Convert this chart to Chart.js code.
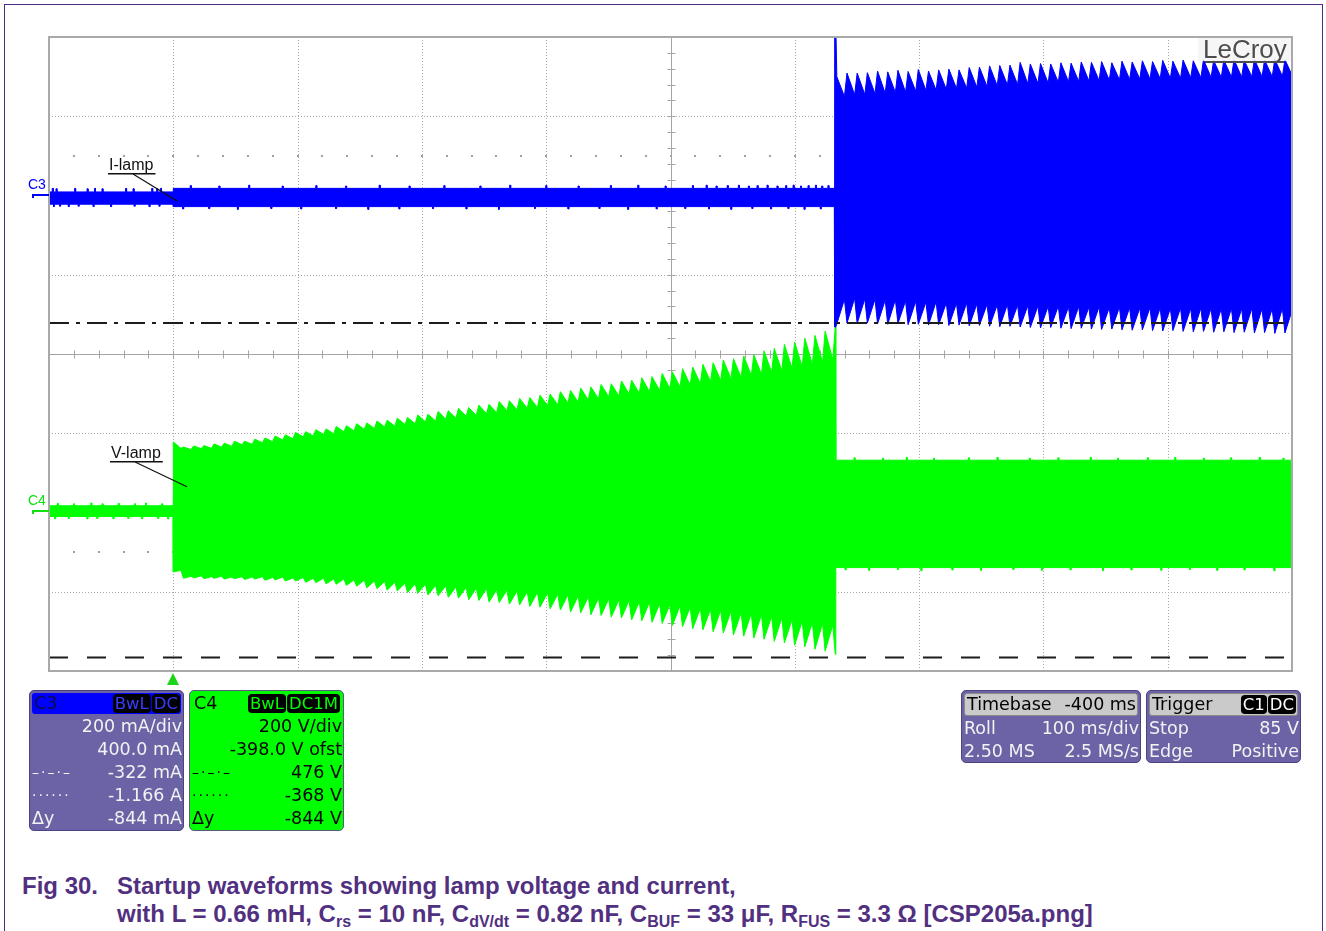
<!DOCTYPE html>
<html>
<head>
<meta charset="utf-8">
<title>Startup waveforms</title>
<script src="https://cdn.jsdelivr.net/npm/chart.js@4.4.1/dist/chart.umd.min.js"></script>
<style>
  html, body { margin: 0; padding: 0; background: #fff; }
  body { width: 1326px; height: 931px; position: relative; overflow: hidden; font-family: "Liberation Sans", Arial, sans-serif; }
  #pageFrame { position: absolute; left: 4px; top: 4px; width: 1319px; height: 960px; border: 1px solid #4e2a84; box-sizing: border-box; }
  #scope { position: absolute; left: 0; top: 0; width: 1326px; height: 700px; }
  .pane { position: absolute; box-sizing: border-box; border: 1px solid #4a4580; border-radius: 5px;
          font-family: "DejaVu Sans", Verdana, sans-serif; font-size: 17.5px; overflow: hidden; }
  .pane .hd { height: 21px; margin: 2px 2px 1px 2px; border-radius: 3px; display: flex; align-items: center;
              justify-content: space-between; padding: 0 1px 0 2px; line-height: 21px; white-space: nowrap; }
  .pane .rw { height: 23px; line-height: 23px; display: flex; justify-content: space-between; padding: 0 1px 0 2px; white-space: nowrap; }
  .badge { display: inline-block; background: #000; border-radius: 4px; padding: 0 2px; height: 19px; line-height: 19px; margin-left: 1px; font-size: 16.5px; }
  .purple { background: #6b63a5; color: #f2f2f2; }
  .sym { font-size: 14px; letter-spacing: 2px; }
  .cap { position: absolute; color: #51307f; font-weight: bold; font-size: 24px; white-space: nowrap; font-family: "Liberation Sans", Arial, sans-serif; }
  .cap sub { font-size: 16px; vertical-align: -5px; line-height: 0; }
</style>
</head>
<body>
<div id="pageFrame"></div>
<div id="scope"><canvas id="scopeChart"></canvas></div>

<!-- channel and timebase readouts -->
<div class="pane purple" style="left:29px;top:690px;width:155px;height:141px;">
  <div class="hd" style="background:#0000ff;color:#0c0c48;"><span>C3</span><span><span class="badge" style="color:#3a3aff">BwL</span><span class="badge" style="color:#3a3aff">DC</span></span></div>
  <div class="rw"><span></span><span>200 mA/div</span></div>
  <div class="rw"><span></span><span>400.0 mA</span></div>
  <div class="rw"><span class="sym">–·–·–</span><span>-322 mA</span></div>
  <div class="rw"><span class="sym">······</span><span>-1.166 A</span></div>
  <div class="rw"><span>Δy</span><span>-844 mA</span></div>
</div>
<div class="pane" style="left:189px;top:690px;width:155px;height:141px;background:#00ff00;color:#000;border-color:#5a5a7a;">
  <div class="hd" style="color:#000;"><span>C4</span><span><span class="badge" style="color:#00ff00">BwL</span><span class="badge" style="color:#00ff00">DC1M</span></span></div>
  <div class="rw"><span></span><span>200 V/div</span></div>
  <div class="rw"><span></span><span>-398.0 V ofst</span></div>
  <div class="rw"><span class="sym">–·–·–</span><span>476 V</span></div>
  <div class="rw"><span class="sym">······</span><span>-368 V</span></div>
  <div class="rw"><span>Δy</span><span>-844 V</span></div>
</div>
<div class="pane purple" style="left:961px;top:690px;width:180px;height:73px;">
  <div class="hd" style="background:#cacaca;color:#000;border:1px solid #8a8a8a;"><span>Timebase</span><span>-400 ms</span></div>
  <div class="rw"><span>Roll</span><span>100 ms/div</span></div>
  <div class="rw"><span>2.50 MS</span><span>2.5 MS/s</span></div>
</div>
<div class="pane purple" style="left:1146px;top:690px;width:155px;height:73px;">
  <div class="hd" style="background:#cacaca;color:#000;border:1px solid #8a8a8a;"><span>Trigger</span><span><span class="badge" style="color:#fff">C1</span><span class="badge" style="color:#fff">DC</span></span></div>
  <div class="rw"><span>Stop</span><span>85 V</span></div>
  <div class="rw"><span>Edge</span><span>Positive</span></div>
</div>

<div class="cap" style="left:22px;top:872px;">Fig 30.</div>
<div class="cap" style="left:117px;top:872px;">Startup waveforms showing lamp voltage and current,</div>
<div class="cap" style="left:117px;top:900px;">with L = 0.66 mH, C<sub>rs</sub> = 10 nF, C<sub>dV/dt</sub> = 0.82 nF, C<sub>BUF</sub> = 33 μF, R<sub>FUS</sub> = 3.3 Ω [CSP205a.png]</div>

<script>
// ---- acquisition settings -------------------------------------------------
const T_MIN = -100, T_MAX = 900, T_CENTER = 400;       // ms, 100 ms/div, trigger at 0
const TIME_DIV_MS = 100;
const SWITCH_MS = 532.6;                                 // lamp ignition instant
const TOOTH_MS = SWITCH_MS / 65;                         // ripple period of the envelope
const C3_RANGE = [-1200, 400], C3_DIV = 200, C3_CENTER = -400;   // mA, 400.0 mA offset
const C4_RANGE = [-402, 1198];                                  // V, -398.0 V offset
const C3_CURSORS = [-322, -1166];                               // mA
const HALF_ROWS = [100, -900];                                  // mA, half-division dot rows

// ---- C4 : V-lamp (volts) --------------------------------------------------
// idle band before the trigger: edge level and noise spikes [ms, V]
const c4IdleTopLevel = 15, c4IdleBotLevel = -12;
const c4IdleTopSpikes = [[-93, 21], [-80, 20], [-66, 22], [-57, 20], [-44, 21], [-31, 20], [-22, 22], [-9, 20]];
const c4IdleBotSpikes = [[-95, -18], [-84, -17], [-69, -18], [-61, -17], [-48, -18], [-36, -17], [-25, -18], [-12, -17], [-4, -18]];

const c4RampTopPeak = [
  176, 163, 166, 167, 171, 173, 178, 178, 183, 186,
  191, 194, 200, 202, 207, 209, 215, 217, 222, 224,
  229, 231, 236, 238, 244, 246, 253, 255, 261, 263,
  269, 271, 278, 280, 286, 288, 294, 297, 303, 306,
  312, 315, 321, 323, 330, 332, 338, 341, 349, 353,
  361, 365, 372, 376, 383, 386, 393, 396, 406, 412,
  422, 428, 438, 445, 456, 466];
const c4RampTopValley = [
  160, 157, 159, 160, 163, 165, 169, 170, 174, 177,
  181, 184, 189, 191, 195, 197, 202, 204, 208, 210,
  214, 216, 220, 222, 227, 229, 234, 236, 241, 243,
  247, 250, 255, 257, 261, 263, 268, 270, 274, 277,
  282, 285, 290, 292, 297, 299, 303, 306, 311, 315,
  320, 323, 328, 331, 336, 339, 344, 347, 352, 356,
  362, 366, 372, 377, 384];
const c4RampBotPeak = [
  -152, -168, -167, -169, -168, -170, -169, -171, -170, -173,
  -172, -175, -175, -178, -179, -182, -183, -186, -188, -192,
  -194, -198, -200, -204, -206, -210, -212, -216, -218, -222,
  -224, -228, -229, -233, -235, -239, -241, -245, -248, -253,
  -255, -260, -262, -266, -268, -273, -275, -279, -282, -287,
  -290, -295, -298, -303, -306, -311, -314, -319, -322, -327,
  -331, -337, -341, -347, -352, -360];
const c4RampBotValley = [
  -148, -163, -162, -164, -163, -165, -164, -165, -164, -166,
  -165, -167, -166, -168, -168, -170, -170, -172, -173, -175,
  -176, -178, -180, -182, -183, -186, -187, -190, -191, -193,
  -194, -197, -198, -200, -202, -204, -205, -208, -210, -213,
  -215, -218, -220, -222, -224, -227, -229, -232, -235, -238,
  -241, -244, -246, -249, -252, -255, -257, -260, -264, -268,
  -272, -276, -279, -282, -286];

// running lamp: edge level and noise spikes [ms, V]
const c4RunTopLevel = 130, c4RunBotLevel = -141;
const c4RunTopSpikes = [[548, 136], [571, 135], [590, 137], [612, 135], [640, 136], [663, 137], [689, 135],
  [712, 136], [738, 137], [760, 135], [784, 136], [806, 137], [829, 135], [851, 136], [874, 137], [893, 135]];
const c4RunBotSpikes = [[541, -147], [560, -148], [583, -146], [602, -149], [627, -147], [650, -148], [676, -146],
  [699, -148], [722, -147], [748, -149], [771, -147], [795, -148], [818, -146], [840, -148], [862, -147], [886, -149]];

// ---- C3 : I-lamp (milliamps) ----------------------------------------------
const c3PreTopLevel = 9, c3PreBotLevel = -22;
const c3PreTopSpikes = [[-97, 18], [-94, 17], [-79, 18], [-69, 17], [-63, 18], [-57, 17], [-38, 18], [-32, 17], [-17, 18], [-13, 17], [-10, 18]];
const c3PreBotSpikes = [[-96, -28], [-91, -27], [-84, -28], [-76, -27], [-64, -28], [-50, -28], [-31, -27], [-19, -28], [-11, -27]];
const c3IdleTopLevel = 18, c3IdleBotLevel = -28;
const c3IdleTopSpikes = [
  [14, 25], [37, 24], [61, 26], [88, 24], [115, 25], [139, 24], [166, 26], [190, 24], [218, 25],
  [247, 24], [271, 26], [300, 25], [326, 24], [352, 25], [374, 26], [396, 24], [418, 25],
  [429, 26], [437, 24], [446, 25], [455, 26], [463, 24], [470, 25], [478, 26], [486, 24],
  [493, 25], [499, 26], [505, 24], [511, 25], [517, 26], [522, 24], [527, 25]];
const c3IdleBotSpikes = [
  [8, -34], [29, -33], [52, -35], [79, -33], [103, -34], [131, -33], [157, -35], [182, -34], [209, -33],
  [236, -34], [262, -35], [291, -33], [318, -34], [343, -33], [366, -35], [389, -34], [412, -33],
  [431, -34], [449, -35], [466, -33], [481, -34], [495, -33], [508, -35], [521, -34]];
const C3_IGNITION_SPIKE = [430, -332];                          // mA, first cycle after ignition

const c3RunTopPeak = [
  300, 309, 309, 310, 314, 312, 316, 313, 318, 314,
  317, 319, 317, 323, 324, 327, 328, 329, 336, 332,
  333, 332, 335, 334, 337, 336, 338, 335, 339, 337,
  340, 338, 341, 339, 342, 340, 343, 341, 342, 343,
  341, 344, 342, 344, 343, 344];
const c3RunTopValley = [
  250, 254, 255, 257, 258, 260, 261, 263, 265, 266,
  268, 270, 271, 273, 275, 277, 279, 280, 282, 283,
  284, 286, 287, 288, 289, 290, 291, 292, 293, 294,
  294, 295, 296, 296, 297, 297, 298, 298, 299, 299,
  300, 300, 300, 301, 301];
const c3RunBotPeak = [
  -324, -322, -323, -322, -324, -325, -323, -326, -325, -327,
  -326, -328, -327, -329, -328, -330, -331, -330, -332, -333,
  -334, -333, -335, -336, -335, -337, -338, -337, -339, -340,
  -339, -341, -342, -341, -343, -344, -343, -345, -344, -346,
  -345, -347, -346, -348, -347, -348];
const c3RunBotValley = [
  -262, -259, -261, -262, -264, -263, -266, -267, -269, -268,
  -271, -272, -271, -274, -275, -276, -275, -277, -278, -279,
  -280, -279, -281, -280, -282, -281, -283, -282, -283, -284,
  -283, -284, -285, -284, -285, -284, -285, -286, -285, -286,
  -285, -286, -286, -285, -286];

// ---- helpers that place the readings on the time axis ---------------------
const SPIKE_HALF_MS = 0.4;
function band(t0, t1, level, spikes) {
  const pts = [{ x: t0, y: level }];
  for (const [t, v] of spikes) {
    pts.push({ x: t - SPIKE_HALF_MS, y: level }, { x: t - SPIKE_HALF_MS, y: v },
             { x: t + SPIKE_HALF_MS, y: v }, { x: t + SPIKE_HALF_MS, y: level });
  }
  pts.push({ x: t1, y: level });
  return pts;
}
function ripple(t0, peaks, valleys) {
  const pts = [];
  peaks.forEach((p, i) => {
    pts.push({ x: t0 + i * TOOTH_MS, y: p });
    if (i < valleys.length) pts.push({ x: t0 + (i + 0.75) * TOOTH_MS, y: valleys[i] });
  });
  return pts;
}

const c4Upper = [].concat(
  band(T_MIN, -0.2, c4IdleTopLevel, c4IdleTopSpikes),
  ripple(0, c4RampTopPeak, c4RampTopValley),
  band(SWITCH_MS + 0.4, T_MAX + 2, c4RunTopLevel, c4RunTopSpikes));
const c4Lower = [].concat(
  band(T_MIN, -0.2, c4IdleBotLevel, c4IdleBotSpikes),
  ripple(0, c4RampBotPeak, c4RampBotValley),
  band(SWITCH_MS + 0.4, T_MAX + 2, c4RunBotLevel, c4RunBotSpikes));
const c3Upper = [].concat(
  band(T_MIN, -0.2, c3PreTopLevel, c3PreTopSpikes),
  band(0, SWITCH_MS - 0.8, c3IdleTopLevel, c3IdleTopSpikes),
  [{ x: SWITCH_MS - 0.5, y: C3_IGNITION_SPIKE[0] }, { x: SWITCH_MS + 0.4, y: C3_IGNITION_SPIKE[0] }],
  ripple(SWITCH_MS + 1.2, c3RunTopPeak, c3RunTopValley));
const c3Lower = [].concat(
  band(T_MIN, -0.2, c3PreBotLevel, c3PreBotSpikes),
  band(0, SWITCH_MS - 0.8, c3IdleBotLevel, c3IdleBotSpikes),
  [{ x: SWITCH_MS - 0.5, y: C3_IGNITION_SPIKE[1] }, { x: SWITCH_MS + 0.4, y: C3_IGNITION_SPIKE[1] }],
  ripple(SWITCH_MS + 1.2, c3RunBotPeak, c3RunBotValley));

const BLUE = '#0000ff', GREEN = '#00ff00';

// graticule, channel markers, annotations and logo
const scopeDecor = {
  id: 'scopeDecor',
  beforeDatasetsDraw(chart) {
    const { ctx, chartArea: a } = chart;
    const x = chart.scales.x, y = chart.scales.yC3;
    const px = t => Math.round(x.getPixelForValue(t)) + 0.5;
    const py = v => Math.round(y.getPixelForValue(v)) + 0.5;
    ctx.save();
    ctx.lineWidth = 1;
    ctx.strokeStyle = '#a8a8a8';
    ctx.setLineDash([1, 2]);
    ctx.beginPath();
    for (let t = T_MIN + TIME_DIV_MS; t < T_MAX; t += TIME_DIV_MS) {
      if (t === T_CENTER) continue;
      ctx.moveTo(px(t), a.top); ctx.lineTo(px(t), a.bottom);
    }
    for (let v = C3_RANGE[0] + C3_DIV; v < C3_RANGE[1]; v += C3_DIV) {
      if (v === C3_CENTER) continue;
      ctx.moveTo(a.left, py(v)); ctx.lineTo(a.right, py(v));
    }
    ctx.stroke();
    ctx.setLineDash([]);
    ctx.fillStyle = '#a0a0a0';
    for (const v of HALF_ROWS) {
      for (let t = T_MIN + 20; t < T_MAX; t += 20) {
        ctx.fillRect(Math.round(x.getPixelForValue(t)) - 1, Math.round(y.getPixelForValue(v)) - 1, 2, 2);
      }
    }
    const cx = px(T_CENTER), cy = py(C3_CENTER);
    ctx.strokeStyle = '#a4a4a4';
    ctx.beginPath();
    ctx.moveTo(a.left, cy); ctx.lineTo(a.right, cy);
    ctx.moveTo(cx, a.top); ctx.lineTo(cx, a.bottom);
    for (let t = T_MIN; t <= T_MAX; t += 20) { const p = px(t); ctx.moveTo(p, cy - 4); ctx.lineTo(p, cy + 4); }
    for (let v = C3_RANGE[0]; v <= C3_RANGE[1]; v += 40) { const p = py(v); ctx.moveTo(cx - 4, p); ctx.lineTo(cx + 4, p); }
    ctx.stroke();
    ctx.restore();
  },
  afterDatasetsDraw(chart) {
    const { ctx, chartArea: a } = chart;
    const x = chart.scales.x, y3 = chart.scales.yC3, y4 = chart.scales.yC4;
    ctx.save();
    // frame
    ctx.strokeStyle = '#a9a9a9';
    ctx.lineWidth = 2;
    ctx.strokeRect(a.left, a.top, a.right - a.left, a.bottom - a.top);

    // channel ground markers
    const marker = (yZero, color, label) => {
      const yy = Math.round(yZero) - 2;
      ctx.fillStyle = color;
      ctx.fillRect(33, yy, a.left - 33, 2);
      ctx.fillRect(32, yy, 2, 4);
      ctx.font = '14px "Liberation Sans", Arial, sans-serif';
      ctx.textBaseline = 'alphabetic';
      ctx.fillText(label, 28, yy - 5);
    };
    marker(y3.getPixelForValue(0), BLUE, 'C3');
    marker(y4.getPixelForValue(0), '#10e010', 'C4');

    // trace labels with leaders
    const tag = (text, tx, ty, ex, ey) => {
      ctx.font = '16px "Liberation Sans", Arial, sans-serif';
      ctx.fillStyle = '#111';
      ctx.fillText(text, tx, ty);
      const w = ctx.measureText(text).width;
      ctx.fillRect(tx - 1, ty + 3, w + 3, 1.5);
      ctx.strokeStyle = '#111';
      ctx.lineWidth = 1.2;
      ctx.beginPath();
      ctx.moveTo(tx + 24, ty + 4); ctx.lineTo(ex, ey);
      ctx.stroke();
    };
    tag('I-lamp', 109, 170, x.getPixelForValue(3), y3.getPixelForValue(-14));
    tag('V-lamp', 111, 458, x.getPixelForValue(11), y4.getPixelForValue(63));

    // trigger position
    const tx = Math.round(x.getPixelForValue(0));
    ctx.fillStyle = '#19d619';
    ctx.beginPath();
    ctx.moveTo(tx, a.bottom + 2); ctx.lineTo(tx + 6, a.bottom + 14); ctx.lineTo(tx - 6, a.bottom + 14);
    ctx.closePath(); ctx.fill();

    // logo
    ctx.fillStyle = 'rgba(244,244,244,0.85)';
    ctx.fillRect(1198, a.top + 1, a.right - 1199, 23);
    ctx.fillStyle = '#4d4d4d';
    ctx.font = '26px "Liberation Sans", Arial, sans-serif';
    ctx.fillText('LeCroy', 1203, 58);
    ctx.fillRect(1205, 61, 79, 2);
    ctx.restore();
  }
};

const cursorLine = (value, dash) => ({
  data: [{ x: T_MIN, y: value }, { x: T_MAX, y: value }],
  yAxisID: 'yC3', borderColor: '#1c1c1c', borderWidth: 2, borderDash: dash, fill: false
});

new Chart(document.getElementById('scopeChart'), {
  type: 'line',
  data: {
    datasets: [
      cursorLine(C3_CURSORS[0], [20, 7, 4, 7]),
      cursorLine(C3_CURSORS[1], [19, 19]),
      { label: 'I-lamp', data: c3Upper, yAxisID: 'yC3', borderColor: BLUE, borderWidth: 1, fill: false },
      { label: 'I-lamp', data: c3Lower, yAxisID: 'yC3', borderColor: BLUE, borderWidth: 1, backgroundColor: BLUE, fill: '-1' },
      { label: 'V-lamp', data: c4Upper, yAxisID: 'yC4', borderColor: GREEN, borderWidth: 1, fill: false },
      { label: 'V-lamp', data: c4Lower, yAxisID: 'yC4', borderColor: GREEN, borderWidth: 1, backgroundColor: GREEN, fill: '-1' }
    ]
  },
  options: {
    responsive: true,
    maintainAspectRatio: false,
    animation: false,
    layout: { padding: { left: 49, top: 37, right: 34, bottom: 29 } },
    elements: { point: { radius: 0, hoverRadius: 0 }, line: { tension: 0 } },
    plugins: { legend: { display: false }, tooltip: { enabled: false } },
    events: [],
    scales: {
      x: { type: 'linear', min: T_MIN, max: T_MAX, display: false },
      yC3: { type: 'linear', min: C3_RANGE[0], max: C3_RANGE[1], display: false },
      yC4: { type: 'linear', min: C4_RANGE[0], max: C4_RANGE[1], display: false }
    }
  },
  plugins: [scopeDecor]
});
</script>
</body>
</html>
